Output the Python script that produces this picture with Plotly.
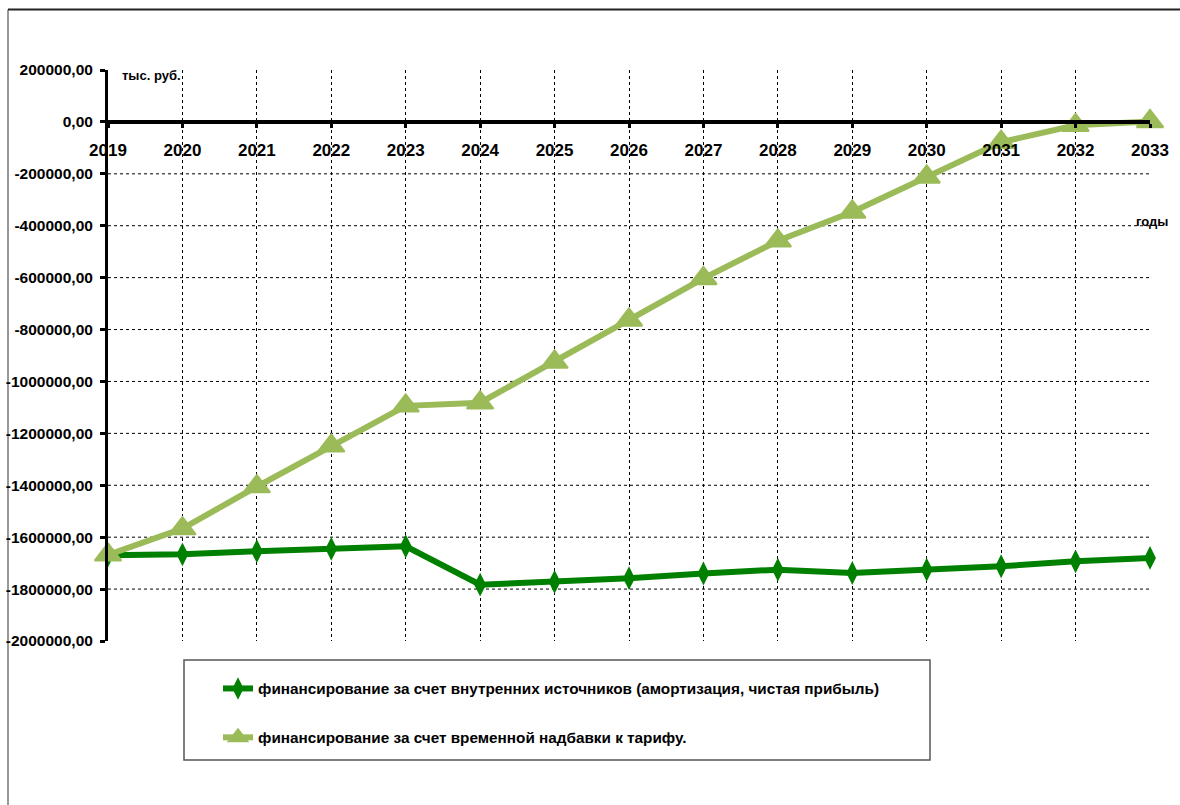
import plotly.graph_objects as go

# Years on the category axis
years = list(range(2019, 2034))

# Financing from internal sources (amortisation, net profit), thousand rubles
internal = [-1670000, -1666000, -1654000, -1645000, -1635000, -1783000, -1772000,
            -1758000, -1740000, -1725000, -1738000, -1725000, -1712000, -1693000,
            -1680000]

# Financing from the temporary tariff surcharge, thousand rubles
surcharge = [-1668000, -1567000, -1405000, -1248000, -1094000, -1082000, -925000,
             -763000, -603000, -458000, -347000, -212000, -78000, -13000, 2000]

y_ticks = list(range(200000, -2000001, -200000))
y_tick_labels = [f"{v},00" for v in y_ticks]

series_names = [
    "финансирование за счет внутренних источников (амортизация, чистая прибыль)",
    "финансирование за счет временной надбавки к тарифу.",
]

FONT = "Liberation Sans, Arial, sans-serif"
DARK = "#008000"
LIGHT = "#9BBB59"

W, H = 1180, 805
ML, MR, MT, MB = 108, 30, 70, 164
PW = W - ML - MR
PH = H - MT - MB


def px_x(px):
    return (px - ML) / PW


def px_y(py):
    return (H - MB - py) / PH


fig = go.Figure()

fig.add_trace(go.Scatter(
    x=years, y=internal, name=series_names[0], mode="lines+markers",
    line=dict(color=DARK, width=6),
    marker=dict(symbol="diamond-tall", size=17, color=DARK),
    cliponaxis=False, legendgroup="a",
))
fig.add_trace(go.Scatter(
    x=years, y=surcharge, name=series_names[1], mode="lines+markers",
    line=dict(color=LIGHT, width=6),
    marker=dict(symbol="triangle-up", size=23, color=LIGHT,
                line=dict(color=LIGHT, width=2)),
    cliponaxis=False, legendgroup="b",
))

shapes = []
# dotted horizontal grid between the zero line and the bottom edge
for v in y_ticks:
    if y_ticks[-1] < v < 0:
        shapes.append(dict(type="line", xref="x", yref="y",
                           x0=years[0], x1=years[-1], y0=v, y1=v,
                           line=dict(color="black", width=1, dash="dot"),
                           layer="below"))
# legend frame
shapes.append(dict(type="rect", xref="paper", yref="paper",
                   x0=px_x(184), x1=px_x(930), y0=px_y(760), y1=px_y(660),
                   line=dict(color="#555555", width=1.5), fillcolor="white",
                   layer="below"))
# outer frame (top and left edges)
shapes.append(dict(type="line", xref="paper", yref="paper",
                   x0=px_x(8), x1=px_x(W), y0=px_y(9.5), y1=px_y(9.5),
                   line=dict(color="#222222", width=2)))
shapes.append(dict(type="line", xref="paper", yref="paper",
                   x0=px_x(8), x1=px_x(8), y0=px_y(9.5), y1=px_y(H),
                   line=dict(color="#999999", width=2), layer="below"))

annotations = [
    dict(text="тыс. руб.", xref="paper", yref="paper", x=px_x(120), y=px_y(75),
         xanchor="left", yanchor="middle", showarrow=False,
         font=dict(family=FONT, size=13, color="black", weight=700)),
    dict(text="годы", xref="paper", yref="paper", x=px_x(1134), y=px_y(222),
         xanchor="left", yanchor="middle", showarrow=False,
         font=dict(family=FONT, size=13, color="black", weight=700)),
]

fig.update_layout(
    width=W, height=H,
    margin=dict(l=ML, r=MR, t=MT, b=MB, autoexpand=False),
    paper_bgcolor="white", plot_bgcolor="white",
    font=dict(family=FONT, color="black"),
    shapes=shapes, annotations=annotations,
    showlegend=True,
    legend=dict(
        xref="paper", yref="paper",
        x=px_x(218), y=px_y(672), xanchor="left", yanchor="top",
        bgcolor="rgba(0,0,0,0)", borderwidth=0,
        font=dict(family=FONT, size=15.3, color="black", weight=700),
        tracegroupgap=26, itemwidth=30,
    ),
    xaxis=dict(
        range=[years[0], years[-1]],
        tickmode="array", tickvals=years, ticktext=[str(y) for y in years],
        anchor="free", position=px_y(121.5), automargin=False,
        showline=True, linecolor="black", linewidth=4,
        ticks="outside", ticklen=4, tickwidth=3, tickcolor="black",
        ticklabelstandoff=8,
        showgrid=True, gridcolor="black", gridwidth=1, griddash="dot",
        zeroline=False,
        tickfont=dict(family=FONT, size=17, color="black", weight=700),
    ),
    yaxis=dict(
        range=[y_ticks[-1], y_ticks[0]], automargin=False,
        tickmode="array", tickvals=y_ticks, ticktext=y_tick_labels,
        showline=True, linecolor="black", linewidth=3,
        ticks="outside", ticklen=5, tickwidth=3, tickcolor="black",
        ticklabelstandoff=4,
        showgrid=False, zeroline=False,
        tickfont=dict(family=FONT, size=15.5, color="black", weight=700),
    ),
)

fig.write_html("out.html")
